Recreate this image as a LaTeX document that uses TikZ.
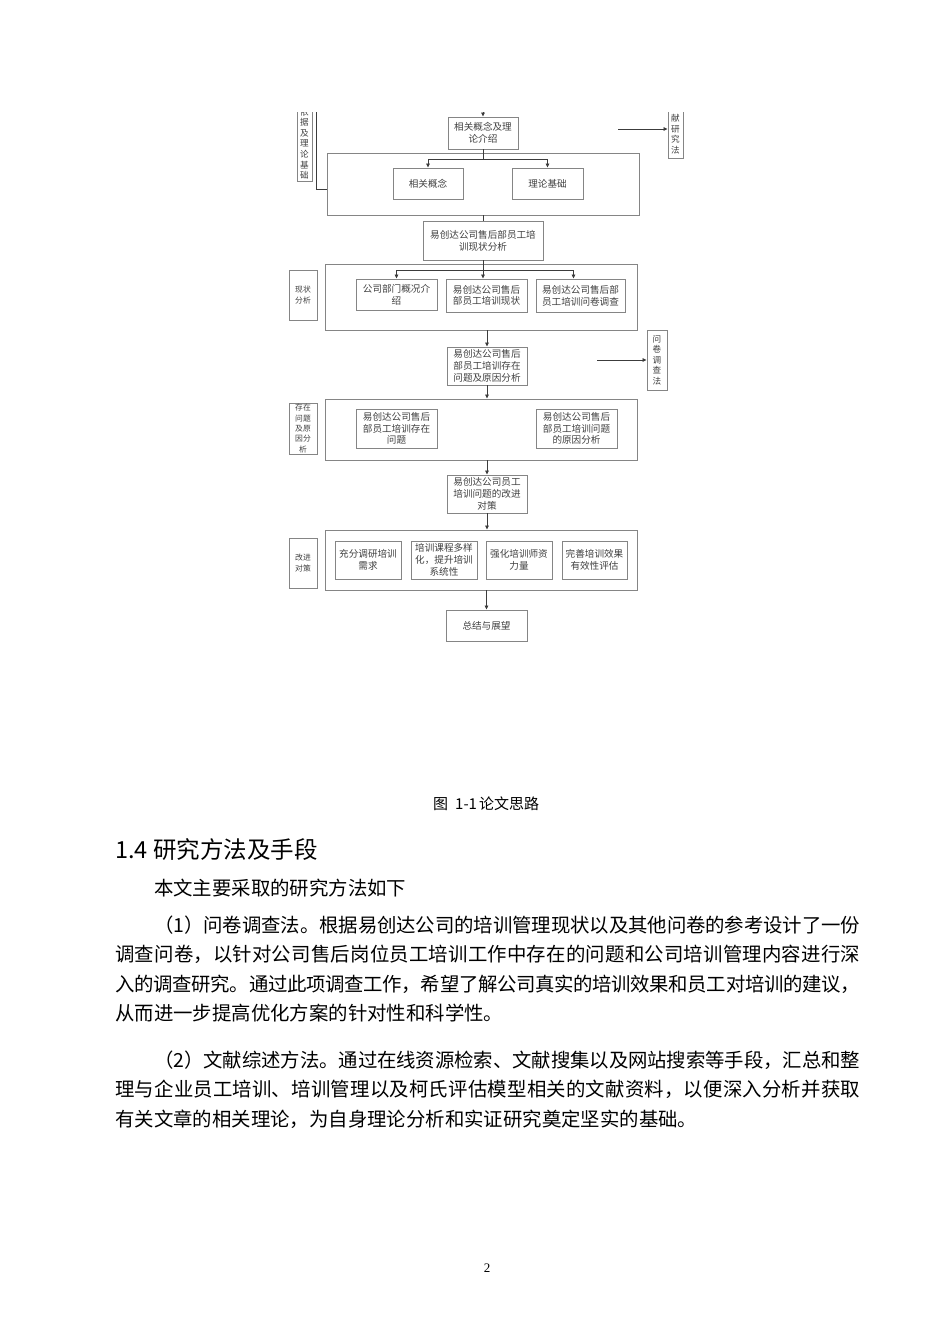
\documentclass[tikz,border=0pt]{standalone}
\usepackage{fontspec}
\setmainfont{Noto Sans CJK SC}
\newfontfamily\pagenumfont{Liberation Serif}
\XeTeXlinebreaklocale "zh"
\XeTeXlinebreakskip=0pt plus 1pt minus 0.8pt
\usepackage{xcolor}
\definecolor{flow-line}{HTML}{858585}
\definecolor{flow-arrow}{HTML}{3C3C3C}
\definecolor{flow-text}{HTML}{404040}
\usepackage{tikz}
\usetikzlibrary{arrows.meta}

\tikzset{
    flowbox/.style={draw=flow-line, line width=0.9pt, inner sep=0pt, align=center, text=flow-text, font=\fontsize{9.6}{11.7}\selectfont},
    groupbox/.style={draw=flow-line, line width=0.9pt, inner sep=0pt},
    sidebox/.style={draw=flow-line, line width=0.9pt, inner sep=0pt, align=center, text=flow-text, font=\fontsize{7.8}{10.3}\selectfont},
    columnbox/.style={sidebox, font=\fontsize{8.6}{10.6}\selectfont},
    flowarrow/.style={draw=flow-arrow, line width=0.8pt, -{Triangle[length=4pt,width=3.6pt]}},
    flowline/.style={draw=flow-arrow, line width=0.8pt},
    bodytext/.style={anchor=base west, inner sep=0pt, text width=745pt, align=justify, font=\fontsize{19.4}{29.5}\selectfont},
}

\begin{document}
\begin{tikzpicture}[x=1pt, y=-1pt]

    % Page
    \fill[white] (0,0) rectangle (950,1344);
    \useasboundingbox (0,0) rectangle (950,1344);

    % Flow chart, cut off at its top
    \begin{scope}
    \clip (250,112) rectangle (720,660);

    % Theory part
    \node[flowbox, minimum width=70, minimum height=32] (concept) at (483,133) {相关概念及理\\论介绍};
    \node[groupbox, minimum width=312, minimum height=62] (theorygroup) at (483,184) {};
    \node[flowbox, minimum width=70, minimum height=31] (relconcept) at (428,183.5) {相关概念};
    \node[flowbox, minimum width=71, minimum height=31] (basis) at (547.5,183.5) {理论基础};
    \node[columnbox, anchor=south, minimum width=15, inner ysep=2.2pt] (theorylabel) at (304.5,182) {依\\据\\及\\理\\论\\基\\础};
    \node[columnbox, anchor=south, minimum width=15, inner ysep=4.6pt] (litlabel) at (675.5,159) {文\\献\\研\\究\\法};
    \coordinate (topin) at (483,100);
    \coordinate (bracket) at (316,100);
    \coordinate (litfrom) at (618,129);
    \draw[flowarrow] (topin) -- (concept.north);
    \draw[flowline] (concept.south) -- ++(0,10) coordinate (split1);
    \draw[flowarrow] (split1) -| (relconcept.north);
    \draw[flowarrow] (split1) -| (basis.north);
    \draw[flowline] (bracket) |- ([yshift=-5pt]theorygroup.west);
    \draw[flowarrow] (litfrom) -- (litfrom -| litlabel.west);

    % Current situation part
    \node[flowbox, minimum width=120, minimum height=39] (situation) at (483,240.5) {易创达公司售后部员工培\\训现状分析};
    \draw[flowline] (theorygroup.south) -- (situation.north);
    \node[groupbox, minimum width=312, minimum height=66] (situationgroup) at (481,297) {};
    \node[flowbox, minimum width=81, minimum height=31] (deptintro) at (396.5,294.5) {公司部门概况介\\绍};
    \node[flowbox, minimum width=81, minimum height=33] (trainstatus) at (486.5,295.5) {易创达公司售后\\部员工培训现状};
    \node[flowbox, minimum width=89, minimum height=33] (survey) at (580.5,295.5) {易创达公司售后部\\员工培训问卷调查};
    \node[sidebox, minimum width=28, minimum height=50] (situationlabel) at (303,295) {现状\\分析};
    \draw[flowline] (situation.south) -- ++(0,10) coordinate (split2);
    \draw[flowarrow] (split2) -| (deptintro.north);
    \draw[flowarrow] (split2) -- (split2 |- trainstatus.north);
    \draw[flowarrow] (split2) -| ([xshift=-7pt]survey.north);

    % Problem part
    \node[flowbox, minimum width=80, minimum height=38] (problems) at (487,366) {易创达公司售后\\部员工培训存在\\问题及原因分析};
    \draw[flowarrow] (problems.north |- situationgroup.south) -- (problems.north);
    \coordinate (surveyfrom) at (597,360);
    \node[columnbox, minimum width=20, minimum height=60] (surveylabel) at (657,360) {问\\卷\\调\\查\\法};
    \draw[flowarrow] (surveyfrom) -- (surveylabel.west);
    \node[groupbox, minimum width=312, minimum height=61] (problemgroup) at (481,429.5) {};
    \draw[flowarrow] (problems.south) -- (problems.south |- problemgroup.north);
    \node[flowbox, minimum width=81, minimum height=39] (existing) at (396.5,428.5) {易创达公司售后\\部员工培训存在\\问题};
    \node[flowbox, minimum width=81, minimum height=39] (causes) at (576.5,428.5) {易创达公司售后\\部员工培训问题\\的原因分析};
    \node[sidebox, minimum width=28, minimum height=51] (problemlabel) at (303,428.5) {存在\\问题\\及原\\因分\\析};

    % Countermeasure part
    \node[flowbox, minimum width=80, minimum height=38] (measures) at (487,494) {易创达公司员工\\培训问题的改进\\对策};
    \draw[flowarrow] (measures.north |- problemgroup.south) -- (measures.north);
    \node[groupbox, minimum width=312, minimum height=60] (measuregroup) at (481,560) {};
    \draw[flowarrow] (measures.south) -- (measures.south |- measuregroup.north);
    \node[flowbox, minimum width=66, minimum height=38] (demand) at (368,560) {充分调研培训\\需求};
    \node[flowbox, minimum width=66, minimum height=38] (course) at (444,560) {培训课程多样\\化，提升培训\\系统性};
    \node[flowbox, minimum width=66, minimum height=38] (teacher) at (519,560) {强化培训师资\\力量};
    \node[flowbox, minimum width=65, minimum height=38] (evaluate) at (594.5,560) {完善培训效果\\有效性评估};
    \node[sidebox, minimum width=28, minimum height=50] (measurelabel) at (303,563) {改进\\对策};

    % Conclusion
    \node[flowbox, minimum width=81, minimum height=31] (summary) at (486.5,625.5) {总结与展望};
    \draw[flowarrow] (summary.north |- measuregroup.south) -- (summary.north);
    \end{scope}

    % Caption and text
    \node[anchor=base west, inner sep=0pt, font=\fontsize{15}{18}\selectfont] (caption) at (433,809.7) {图\hspace{7pt}1-1\hspace{2pt}论文思路};
    \node[anchor=base west, inner sep=0pt, font=\fontsize{23.5}{28}\selectfont] (heading) at (115,858.5) {1.4 研究方法及手段};
    \node[bodytext] (intro) at (115,895) {\noindent\hspace*{2em}本文主要采取的研究方法如下};
    \node[bodytext] (method1) at (115,932.4) {\noindent\hspace*{2em}（1）问卷调查法。根据易创达公司的培训管理现状以及其他问卷的参考设计了一份\linebreak 调查问卷，以针对公司售后岗位员工培训工作中存在的问题和公司培训管理内容进行深\linebreak 入的调查研究。通过此项调查工作，希望了解公司真实的培训效果和员工对培训的建议，\linebreak 从而进一步提高优化方案的针对性和科学性。};
    \node[bodytext] (method2) at (115,1067.4) {\noindent\hspace*{2em}（2）文献综述方法。通过在线资源检索、文献搜集以及网站搜索等手段，汇总和整\linebreak 理与企业员工培训、培训管理以及柯氏评估模型相关的文献资料，以便深入分析并获取\linebreak 有关文章的相关理论，为自身理论分析和实证研究奠定坚实的基础。};
    \node[font=\pagenumfont\fontsize{13}{15}\selectfont] (pagenum) at (487,1268) {2};

\end{tikzpicture}
\end{document}
